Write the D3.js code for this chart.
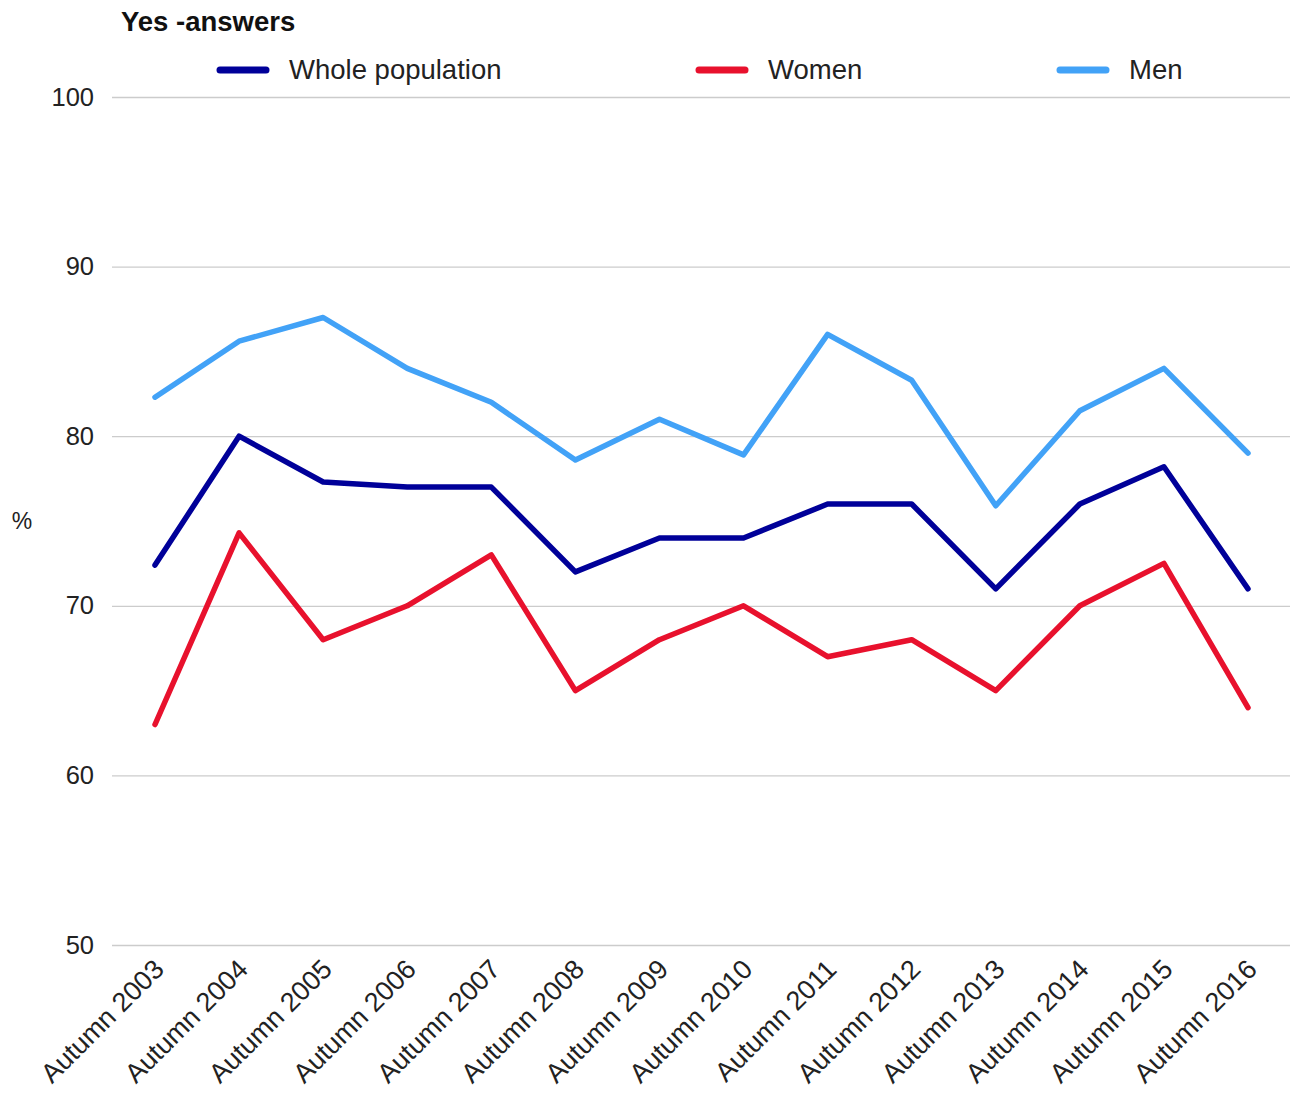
<!DOCTYPE html>
<html>
<head>
<meta charset="utf-8">
<script src="https://cdn.jsdelivr.net/npm/d3@7"></script>
<style>
  body { margin: 0; background: #fff; }
  text { font-family: "Liberation Sans", Arial, sans-serif; }
</style>
</head>
<body>
<div id="chart"></div>
<script>
// data
var categories = ["Autumn 2003", "Autumn 2004", "Autumn 2005", "Autumn 2006",
                  "Autumn 2007", "Autumn 2008", "Autumn 2009", "Autumn 2010",
                  "Autumn 2011", "Autumn 2012", "Autumn 2013", "Autumn 2014",
                  "Autumn 2015", "Autumn 2016"];
var wholePopulation = [72.4, 80, 77.3, 77, 77, 72, 74, 74, 76, 76, 71, 76, 78.2, 71];
var women = [63, 74.3, 68, 70, 73, 65, 68, 70, 67, 68, 65, 70, 72.5, 64];
var men = [82.3, 85.6, 87, 84, 82, 78.6, 81, 78.9, 86, 83.3, 75.9, 81.5, 84, 79];
var yTicks = [50, 60, 70, 80, 90, 100];

var series = [
  { name: "Whole population", values: wholePopulation, color: "#000099" },
  { name: "Women", values: women, color: "#e8112d" },
  { name: "Men", values: men, color: "#42a2f7" }
];

var W = 1291, H = 1093;
var svg = d3.select("#chart").append("svg")
  .attr("width", W).attr("height", H);

// plot area
var x = d3.scalePoint().domain(categories).range([155, 1248]);
var y = d3.scaleLinear().domain([50, 100]).range([945, 97]);

// gridlines + y labels
var yAxis = d3.axisLeft(y).tickValues(yTicks).tickSize(-(1290 - 112)).tickPadding(18);
var gy = svg.append("g").attr("transform", "translate(112,0)").call(yAxis);
gy.select(".domain").remove();
gy.selectAll(".tick line").attr("stroke", "#cccccc").attr("stroke-width", 1.3);
gy.selectAll(".tick text")
  .attr("font-size", 25.5).attr("fill", "#222")
  .attr("font-family", "Liberation Sans, Arial, sans-serif");

// x labels, rotated
var xAxis = d3.axisBottom(x).tickSize(0).tickPadding(0);
var gx = svg.append("g").attr("transform", "translate(0,945)").call(xAxis);
gx.select(".domain").remove();
gx.selectAll(".tick text")
  .attr("font-size", 27).attr("fill", "#222")
  .attr("font-family", "Liberation Sans, Arial, sans-serif")
  .attr("text-anchor", "end")
  .attr("dy", 0)
  .attr("transform", "translate(10,26) rotate(-45)");

// y axis title
svg.append("text").attr("x", 22).attr("y", 529)
  .attr("text-anchor", "middle").attr("font-size", 23).attr("fill", "#222")
  .text("%");

// lines
var line = d3.line()
  .x(function(d, i) { return x(categories[i]); })
  .y(function(d) { return y(d); });

svg.selectAll("path.series").data(series).enter().append("path")
  .attr("class", "series")
  .attr("d", function(d) { return line(d.values); })
  .attr("fill", "none")
  .attr("stroke", function(d) { return d.color; })
  .attr("stroke-width", 5.5)
  .attr("stroke-linejoin", "round")
  .attr("stroke-linecap", "round");

// title
svg.append("text").attr("x", 121).attr("y", 31)
  .attr("font-size", 27.5).attr("font-weight", "bold").attr("fill", "#111")
  .text("Yes -answers");

// legend
var legendX = [218, 697, 1058];
var lg = svg.selectAll("g.legend").data(series).enter().append("g")
  .attr("class", "legend")
  .attr("transform", function(d, i) { return "translate(" + legendX[i] + ",70)"; });
lg.append("line").attr("x1", 2).attr("x2", 48).attr("y1", 0).attr("y2", 0)
  .attr("stroke", function(d) { return d.color; })
  .attr("stroke-width", 7).attr("stroke-linecap", "round");
lg.append("text").attr("x", 71).attr("y", 9)
  .attr("font-size", 27.5).attr("fill", "#222")
  .text(function(d) { return d.name; });
</script>
</body>
</html>
